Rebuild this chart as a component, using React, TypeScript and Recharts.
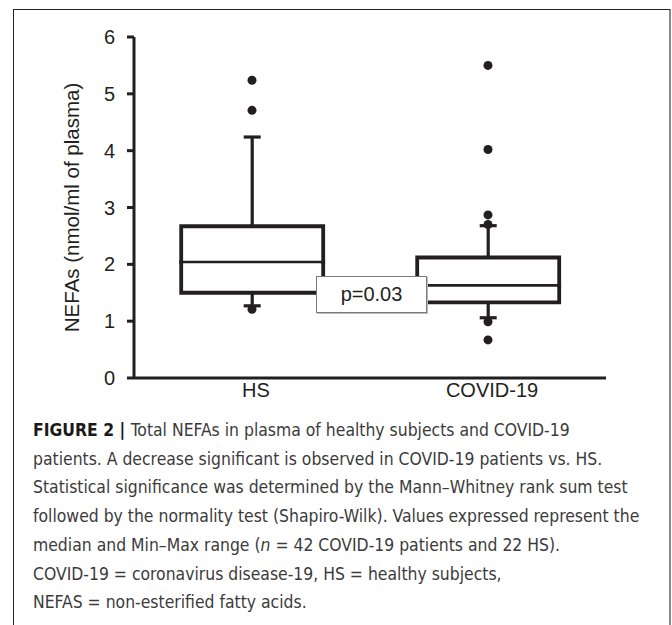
import React from "react";
import {
  ComposedChart,
  Bar,
  Scatter,
  XAxis,
  YAxis,
} from "recharts";

// box plot values (nmol/ml of plasma)
const groups = ["HS", "COVID-19"];
const whiskerLow = [1.27, 1.06];
const q1 = [1.5, 1.33];
const median = [2.04, 1.63];
const q3 = [2.67, 2.12];
const whiskerHigh = [4.24, 2.68];
const outliersHS = [5.24, 4.71, 1.21];
const outliersCovid = [5.5, 4.02, 2.87, 2.7, 0.99, 0.67];
const yTicks = [0, 1, 2, 3, 4, 5, 6];

const captionLines = [
  "patients. A decrease significant is observed in COVID-19 patients vs. HS.",
  "Statistical significance was determined by the Mann\u2013Whitney rank sum test",
  "followed by the normality test (Shapiro-Wilk). Values expressed represent the",
];

const INK = "#231f20";
const outlierKeys = ["o0", "o1", "o2", "o3", "o4", "o5"];
const allOutliers = [outliersHS, outliersCovid];

const data = groups.map((name, i) => {
  const row: Record<string, any> = {
    name,
    base: whiskerLow[i],
    lowW: q1[i] - whiskerLow[i],
    boxLow: median[i] - q1[i],
    boxHigh: q3[i] - median[i],
    highW: whiskerHigh[i] - q3[i],
  };
  allOutliers[i].forEach((v, j) => {
    row[outlierKeys[j]] = v;
  });
  return row;
});

const CAP = 8.5;

const LowWhisker = (p: any) => {
  const cx = p.x + p.width / 2;
  return (
    <g stroke={INK} strokeWidth={3.2}>
      <line x1={cx} y1={p.y} x2={cx} y2={p.y + p.height} />
      <line x1={cx - CAP} y1={p.y + p.height} x2={cx + CAP} y2={p.y + p.height} />
    </g>
  );
};

const HighWhisker = (p: any) => {
  const cx = p.x + p.width / 2;
  return (
    <g stroke={INK} strokeWidth={3.2}>
      <line x1={cx} y1={p.y} x2={cx} y2={p.y + p.height} />
      <line x1={cx - CAP} y1={p.y} x2={cx + CAP} y2={p.y} />
    </g>
  );
};

const BoxLow = (p: any) => {
  const { x, y, width: w, height: h } = p;
  return (
    <path
      d={`M${x},${y} L${x},${y + h} L${x + w},${y + h} L${x + w},${y}`}
      fill="#fff"
      stroke={INK}
      strokeWidth={3.8}
      strokeLinecap="square"
    />
  );
};

const BoxHigh = (p: any) => {
  const { x, y, width: w, height: h } = p;
  return (
    <g>
      <path
        d={`M${x},${y + h} L${x},${y} L${x + w},${y} L${x + w},${y + h}`}
        fill="#fff"
        stroke={INK}
        strokeWidth={3.8}
        strokeLinecap="square"
      />
      <line x1={x} y1={y + h} x2={x + w} y2={y + h} stroke={INK} strokeWidth={2.6} />
    </g>
  );
};

const outlierShape = (key: string) => (p: any) => {
  if (p.payload == null || p.payload[key] == null || p.cy == null) return <g />;
  return <circle cx={p.cx} cy={p.cy} r={4.5} fill={INK} />;
};

export default function App() {
  return (
    <div
      style={{
        position: "absolute",
        left: 0,
        top: 0,
        width: 672,
        height: 625,
        background: "#fff",
        overflow: "hidden",
        fontFamily: "'Liberation Sans', Arial, sans-serif",
      }}
    >
      {/* figure frame */}
      <div
        style={{
          position: "absolute",
          left: 13,
          top: 9,
          width: 655,
          height: 700,
          borderTop: "1.5px solid #222",
          borderLeft: "1.5px solid #222",
          borderRight: "2px solid #888",
        }}
      />

      <div style={{ position: "absolute", left: 0, top: 0 }}>
        <ComposedChart
          width={672}
          height={420}
          data={data}
          margin={{ top: 37, right: 66, bottom: 10, left: 32 }}
          barCategoryGap="20%"
        >
          <XAxis
            dataKey="name"
            type="category"
            height={32}
            axisLine={{ stroke: INK, strokeWidth: 3 }}
            tickLine={false}
            tickSize={0}
            tickMargin={5}
            tick={{ fontSize: 20, fill: INK, dx: 4 }}
          />
          <YAxis
            type="number"
            domain={[0, 6]}
            ticks={yTicks}
            width={102}
            axisLine={{ stroke: INK, strokeWidth: 3 }}
            tickLine={{ stroke: INK, strokeWidth: 3 }}
            tickSize={7}
            tickMargin={12}
            tick={{ fontSize: 20, fill: INK }}
            label={{
              value: "NEFAs (nmol/ml of plasma)",
              angle: -90,
              position: "insideLeft",
              offset: 40,
              style: { textAnchor: "middle", fontSize: 20.5, fill: INK },
            }}
          />
          <Bar dataKey="base" stackId="box" shape={() => <g />} isAnimationActive={false} />
          <Bar dataKey="lowW" stackId="box" shape={LowWhisker} isAnimationActive={false} />
          <Bar dataKey="boxLow" stackId="box" shape={BoxLow} isAnimationActive={false} />
          <Bar dataKey="boxHigh" stackId="box" shape={BoxHigh} isAnimationActive={false} />
          <Bar dataKey="highW" stackId="box" shape={HighWhisker} isAnimationActive={false} />
          {outlierKeys.map((k) => (
            <Scatter key={k} dataKey={k} shape={outlierShape(k)} isAnimationActive={false} />
          ))}
        </ComposedChart>
      </div>

      {/* significance annotation */}
      <div
        style={{
          position: "absolute",
          left: 316,
          top: 276,
          width: 109,
          height: 35,
          background: "#fff",
          border: "1px solid #7a7a7a",
          boxShadow: "1px 1px 0 #bbb",
          fontSize: 20,
          color: INK,
          display: "flex",
          alignItems: "center",
          justifyContent: "center",
        }}
      >
        p=0.03
      </div>

      {/* caption */}
      <div
        style={{
          position: "absolute",
          left: 33,
          top: 416,
          fontFamily: "'DejaVu Sans Condensed', 'Liberation Sans', sans-serif",
          fontSize: 17.4,
          lineHeight: "28.7px",
          color: "#3b3b3b",
          whiteSpace: "nowrap",
        }}
      >
        <div>
          <span style={{ fontWeight: 700, color: "#1a1a1a" }}>FIGURE 2 | </span>
          Total NEFAs in plasma of healthy subjects and COVID-19
        </div>
        {captionLines.map((l) => (
          <div key={l}>{l}</div>
        ))}
        <div>
          median and Min{"\u2013"}Max range (<i>n</i> = 42 COVID-19 patients and 22 HS).
        </div>
        <div>COVID-19 = coronavirus disease-19, HS = healthy subjects,</div>
        <div>NEFAS = non-esterified fatty acids.</div>
      </div>
    </div>
  );
}
